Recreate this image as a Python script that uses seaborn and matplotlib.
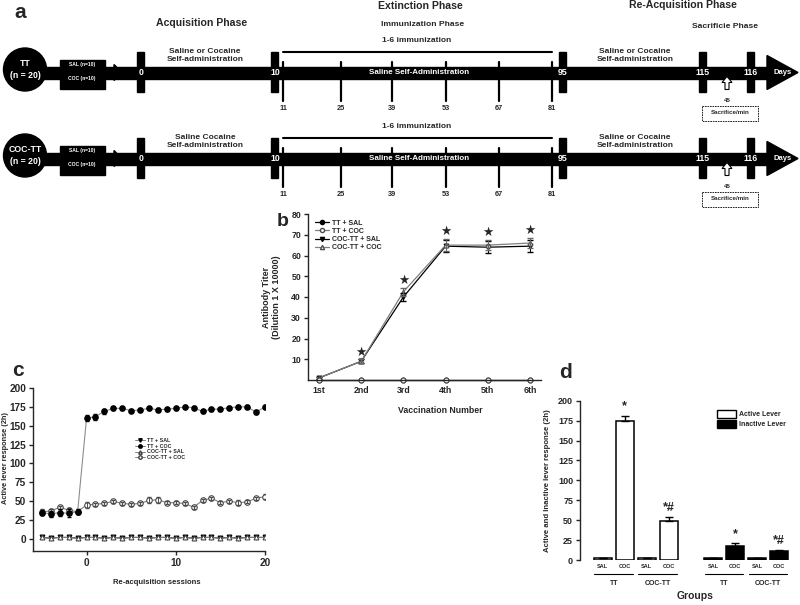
import matplotlib
matplotlib.use("Agg")
import matplotlib.pyplot as plt
import matplotlib.patches as mpatches
from matplotlib.lines import Line2D
import numpy as np
import pandas as pd
import seaborn as sns

sns.set_style("ticks")
plt.rcParams["font.family"] = ["Liberation Sans", "DejaVu Sans"]
plt.rcParams["font.weight"] = "bold"
plt.rcParams["axes.labelweight"] = "bold"
plt.rcParams["axes.linewidth"] = 1.0

# ---------------- data: panel a (timeline) ----------------
row_names = ["TT\n(n = 20)", "COC-TT\n(n = 20)"]
acq_text = ["Saline or Cocaine\nSelf-administration", "Saline Cocaine\nSelf-administration"]
phase_days = [0, 10, 95, 115, 116]
immun_days = [11, 25, 39, 53, 67, 81]
sacrifice_min = 45

# ---------------- data: panel b ----------------
vacc = ["1st", "2nd", "3rd", "4th", "5th", "6th"]
titer_tt_sal = [0, 0, 0, 0, 0, 0]
titer_tt_coc = [0, 0, 0, 0, 0, 0]
titer_coc_sal = [1, 9, 40, 64.5, 64, 64.5]
titer_coc_sal_err = [0.5, 1, 2, 3, 3, 3]
titer_coc_coc = [1, 9, 42.5, 65, 65, 66]
titer_coc_coc_err = [0.5, 1, 2, 3, 2.5, 2.5]
titer_sig = [False, True, True, True, True, True]

# ---------------- data: panel c ----------------
sessions = list(range(-5, 21))
tt_sal = [2, 1, 2, 2, 1, 2, 2, 1, 2, 1, 2, 2, 1, 2, 2, 1, 2, 1, 2, 2, 1, 2, 1, 2, 2, 2]
tt_coc = [35, 33, 35, 34, 36, 160, 162, 169, 173, 173, 170, 171, 173, 171, 172, 173,
          175, 174, 169, 172, 172, 174, 175, 175, 168, 175]
tt_coc_err = [3, 4, 4, 5, 3, 4, 4, 3, 2, 2, 2, 2, 2, 2, 2, 2, 2, 2, 2, 2, 2, 2, 2, 2, 3, 2]
coc_sal = [2, 1, 2, 2, 1, 2, 2, 1, 2, 1, 2, 2, 1, 2, 2, 1, 2, 1, 2, 2, 1, 2, 1, 2, 2, 2]
coc_coc = [36, 37, 42, 38, 36, 45, 46, 47, 50, 47, 46, 47, 51, 52, 48, 48,
           47, 42, 51, 54, 48, 50, 48, 49, 54, 56]
coc_coc_err = [3, 3, 2, 3, 3, 4, 2, 2, 2, 2, 2, 2, 4, 4, 2, 2, 2, 2, 2, 2, 2, 2, 3, 2, 2, 3]

# ---------------- data: panel d ----------------
d_group = ["TT", "TT", "COC-TT", "COC-TT", "TT", "TT", "COC-TT", "COC-TT"]
d_treat = ["SAL", "COC", "SAL", "COC", "SAL", "COC", "SAL", "COC"]
d_lever = ["Active Lever"] * 4 + ["Inactive Lever"] * 4
d_resp = [2, 174, 2, 49, 2, 18, 2, 11]
d_err = [0, 7, 0, 5, 0, 3, 0, 1.5]
d_sig = ["", "*", "", "*#", "", "*", "", "*#"]

W, H = 800, 605
fig = plt.figure(figsize=(8, 6.05), dpi=100)


def fax(l, t, r, b):
    return fig.add_axes([l / W, 1 - b / H, (r - l) / W, (b - t) / H])


# ================= panel a =================
ax0 = fig.add_axes([0, 0, 1, 1])
ax0.set_xlim(0, W)
ax0.set_ylim(H, 0)
ax0.axis("off")
day_x = dict(zip(phase_days, [140, 274, 562, 702, 750]))
imm_x = dict(zip(immun_days, [283, 341, 392, 446, 499, 552]))

for r, yc in enumerate([72.5, 158.5]):
    ax0.add_patch(mpatches.Rectangle((30, yc - 6), 740, 12, color="black"))
    ax0.add_patch(mpatches.Polygon([[767, yc - 17], [798, yc], [767, yc + 17]], color="black"))
    ax0.add_patch(mpatches.Polygon([[114, yc - 8], [122, yc], [114, yc + 8]], color="black"))
    ax0.add_patch(mpatches.Circle((25, yc - 3), 21.5, color="black"))
    ax0.text(25, yc - 3, row_names[r], color="white", ha="center", va="center",
             fontsize=6.3, linespacing=1.3)
    ax0.add_patch(mpatches.Rectangle((60, yc - 13), 45, 29, color="black"))
    ax0.text(82, yc - 8, "SAL (n=10)", color="white", ha="center", va="center", fontsize=3.6)
    ax0.text(82, yc + 6, "COC (n=10)", color="white", ha="center", va="center", fontsize=3.6)
    for d in phase_days:
        ax0.add_patch(mpatches.Rectangle((day_x[d] - 3.5, yc - 21), 7, 40, color="black"))
        ax0.text(day_x[d] + 1, yc, str(d), color="white", ha="center", va="center", fontsize=6.3)
    for d in immun_days:
        ax0.plot([imm_x[d], imm_x[d]], [yc - 11, yc + 28], color="black", lw=1.6)
        ax0.text(imm_x[d], yc + 36, str(d), ha="center", va="center", fontsize=5.3)
    ax0.plot([283, 552], [yc - 21, yc - 21], color="black", lw=1.5)
    ax0.text(417, yc - 32, "1-6 immunization", ha="center", va="center", fontsize=6)
    ax0.text(419, yc, "Saline Self-Administration", color="white", ha="center",
             va="center", fontsize=5.8)
    ax0.text(205, yc - 17, acq_text[r], ha="center", va="center", fontsize=6,
             linespacing=1.15)
    ax0.text(635, yc - 17, "Saline or Cocaine\nSelf-administration", ha="center",
             va="center", fontsize=6, linespacing=1.15)
    ax0.add_patch(mpatches.FancyArrow(727, yc + 17, 0, -13, width=4, head_width=10,
                                      head_length=6, length_includes_head=True,
                                      fc="white", ec="black", lw=0.8))
    ax0.text(727, yc + 28, str(sacrifice_min), ha="center", va="center", fontsize=4.5)
    ax0.add_patch(mpatches.Rectangle((702, yc + 33), 56, 15, fill=False, ec="black",
                                     lw=0.6, ls=(0, (2, 1))))
    ax0.text(730, yc + 40.5, "Sacrifice/min", ha="center", va="center", fontsize=4.5)
    ax0.text(783, yc, "Days", color="white", ha="center", va="center", fontsize=5.5)

ax0.text(20, 13, "a", fontsize=15, ha="center", va="center")
ax0.text(202, 23, "Acquisition Phase", fontsize=7.6, ha="center", va="center")
ax0.text(420, 6, "Extinction Phase", fontsize=7.6, ha="center", va="center")
ax0.text(423, 24, "Immunization Phase", fontsize=6.1, ha="center", va="center")
ax0.text(683, 5, "Re-Acquisition Phase", fontsize=7.6, ha="center", va="center")
ax0.text(725, 26, "Sacrificie Phase", fontsize=6.1, ha="center", va="center")
ax0.text(283, 222, "b", fontsize=14, ha="center", va="center")
ax0.text(18, 370, "c", fontsize=15, ha="center", va="center")
ax0.text(566, 373, "d", fontsize=15, ha="center", va="center")

# ================= panel b =================
axb = fax(308, 214, 541, 380)
xb = np.arange(len(vacc))
sns.lineplot(x=xb, y=titer_coc_sal, color="black", lw=0.9, marker="v", markersize=3.5,
             markerfacecolor="black", markeredgecolor="black", ax=axb)
sns.lineplot(x=xb, y=titer_coc_coc, color="0.5", lw=0.9, marker="^", markersize=3.5,
             markerfacecolor="white", markeredgecolor="0.3", ax=axb)
axb.errorbar(xb, titer_coc_sal, yerr=titer_coc_sal_err, fmt="none", ecolor="black",
             elinewidth=0.7, capsize=2.5)
axb.errorbar(xb, titer_coc_coc, yerr=titer_coc_coc_err, fmt="none", ecolor="0.4",
             elinewidth=0.7, capsize=2.5)
sns.lineplot(x=xb, y=titer_tt_sal, color="black", lw=0.9, marker="o", markersize=3.5,
             markerfacecolor="black", markeredgecolor="black", ax=axb, clip_on=False)
sns.lineplot(x=xb, y=titer_tt_coc, color="0.5", lw=0.9, marker="o", markersize=3.5,
             markerfacecolor="white", markeredgecolor="0.3", ax=axb, clip_on=False)
for i, s in enumerate(titer_sig):
    if s:
        top = max(titer_coc_sal[i] + titer_coc_sal_err[i], titer_coc_coc[i] + titer_coc_coc_err[i])
        axb.text(i, top + 3.5, "\u2605", family="DejaVu Sans", fontsize=9,
                 ha="center", va="center")
axb.set_xlim(-0.26, 5.26)
axb.set_ylim(0, 80)
axb.set_yticks(range(10, 90, 10))
axb.set_xticks(xb, vacc)
axb.tick_params(axis="both", labelsize=6.3, length=3, width=1, pad=2)
axb.tick_params(axis="x", length=0, pad=4)
axb.set_ylabel("Antibody Titer\n(Dilution 1 X 10000)", fontsize=6.5, linespacing=1.1)
axb.yaxis.set_label_coords(-0.116, 0.5)
axb.set_xlabel("Vaccination Number", fontsize=6.3)
axb.xaxis.set_label_coords(0.57, -0.157)
sns.despine(ax=axb)
b_handles = [
    Line2D([], [], color="black", lw=0.9, marker="o", ms=3, mfc="black", mec="black"),
    Line2D([], [], color="0.5", lw=0.9, marker="o", ms=3, mfc="white", mec="0.3"),
    Line2D([], [], color="black", lw=0.9, marker="v", ms=3, mfc="black", mec="black"),
    Line2D([], [], color="0.5", lw=0.9, marker="^", ms=3, mfc="white", mec="0.3"),
]
fig.legend(b_handles, ["TT + SAL", "TT + COC", "COC-TT + SAL", "COC-TT + COC"],
           loc="upper left", bbox_to_anchor=(310 / W, 1 - 215 / H), fontsize=5,
           frameon=False, handlelength=2.0, labelspacing=0.15, handletextpad=0.4,
           borderpad=0.2)

# ================= panel c =================
axc = fax(33, 388, 265, 551)
sns.lineplot(x=sessions, y=tt_sal, color="black", lw=0.8, marker="v", markersize=3.5,
             markerfacecolor="black", markeredgecolor="black", ax=axc)
sns.lineplot(x=sessions, y=coc_sal, color="0.5", lw=0.8, marker="^", markersize=3.5,
             markerfacecolor="white", markeredgecolor="0.25", ax=axc)
sns.lineplot(x=sessions, y=coc_coc, color="0.5", lw=0.8, marker="o", markersize=4,
             markerfacecolor="white", markeredgecolor="0.25", ax=axc)
axc.errorbar(sessions, coc_coc, yerr=coc_coc_err, fmt="none", ecolor="0.3",
             elinewidth=0.7, capsize=1.5)
sns.lineplot(x=sessions, y=tt_coc, color="0.55", lw=0.8, marker="o", markersize=4,
             markerfacecolor="black", markeredgecolor="black", ax=axc)
axc.errorbar(sessions, tt_coc, yerr=tt_coc_err, fmt="none", ecolor="black",
             elinewidth=0.7, capsize=1.5)
axc.set_xlim(-6, 20)
axc.set_ylim(-16, 200)
axc.set_yticks(range(0, 201, 25))
axc.set_xticks([0, 10, 20])
axc.tick_params(axis="both", labelsize=7.2, length=3, width=1, pad=2)
axc.set_ylabel("Active lever response (2h)", fontsize=5.3)
axc.yaxis.set_label_coords(-0.103, 0.57)
axc.set_xlabel("Re-acquisition sessions", fontsize=5.5)
axc.xaxis.set_label_coords(0.533, -0.172)
sns.despine(ax=axc)
c_handles = [
    Line2D([], [], color="0.5", lw=0.7, marker="v", ms=2.5, mfc="black", mec="black"),
    Line2D([], [], color="0.5", lw=0.7, marker="o", ms=2.5, mfc="black", mec="black"),
    Line2D([], [], color="0.5", lw=0.7, marker="^", ms=2.5, mfc="white", mec="0.25"),
    Line2D([], [], color="0.5", lw=0.7, marker="o", ms=2.5, mfc="white", mec="0.25"),
]
fig.legend(c_handles, ["TT + SAL", "TT + COC", "COC-TT + SAL", "COC-TT + COC"],
           loc="upper left", bbox_to_anchor=(132 / W, 1 - 435 / H), fontsize=3.8,
           frameon=False, handlelength=1.8, labelspacing=0.12, handletextpad=0.4,
           borderpad=0.1)

# ================= panel d =================
axd = fax(580, 400.7, 790, 560)
bar_pos = [0, 1, 2, 3, 5, 6, 7, 8]
df_d = pd.DataFrame({"pos": bar_pos, "resp": d_resp, "lever": d_lever,
                     "treat": d_treat, "group": d_group})
sns.barplot(data=df_d, x="pos", y="resp", hue="lever", native_scale=True, dodge=False,
            palette={"Active Lever": "white", "Inactive Lever": "black"},
            edgecolor="black", linewidth=1.1, errorbar=None, legend=False, ax=axd)
axd.errorbar(bar_pos, d_resp, yerr=[np.zeros(len(d_err)), d_err], fmt="none",
             ecolor="black", elinewidth=1, capsize=3)
for p, v, e, s in zip(bar_pos, d_resp, d_err, d_sig):
    if s:
        axd.text(p, v + e + 4, s, fontsize=9, ha="center", va="bottom")
axd.set_xlim(-1.03, 8.5)
axd.set_ylim(0, 200)
axd.set_yticks(range(0, 201, 25))
axd.set_xticks(bar_pos, d_treat)
axd.tick_params(axis="y", labelsize=6.5, length=3, width=1, pad=2)
axd.tick_params(axis="x", labelsize=4, length=0, pad=3)
trans = axd.get_xaxis_transform()
for start in [0, 2, 5, 7]:
    axd.plot([start - 0.38, start + 1.38], [-0.088, -0.088], color="black", lw=0.8,
             transform=trans, clip_on=False)
    axd.text(start + 0.5, -0.145, df_d["group"][bar_pos.index(start)], transform=trans,
             fontsize=5, ha="center", va="center")
axd.set_ylabel("Active and Inactive lever response (2h)", fontsize=5.6)
axd.yaxis.set_label_coords(-0.14, 0.5)
axd.set_xlabel("Groups", fontsize=7.5)
axd.xaxis.set_label_coords(0.55, -0.195)
sns.despine(ax=axd, bottom=True)
d_handles = [mpatches.Patch(fc="white", ec="black", lw=1),
             mpatches.Patch(fc="black", ec="black", lw=1)]
fig.legend(d_handles, ["Active Lever", "Inactive Lever"], loc="upper left",
           bbox_to_anchor=(712 / W, 1 - 405 / H), fontsize=5, frameon=False,
           handlelength=2.8, handleheight=1.4, labelspacing=0.2, handletextpad=0.4,
           borderpad=0.2)

fig.savefig("out.png", dpi=100, facecolor="white")
